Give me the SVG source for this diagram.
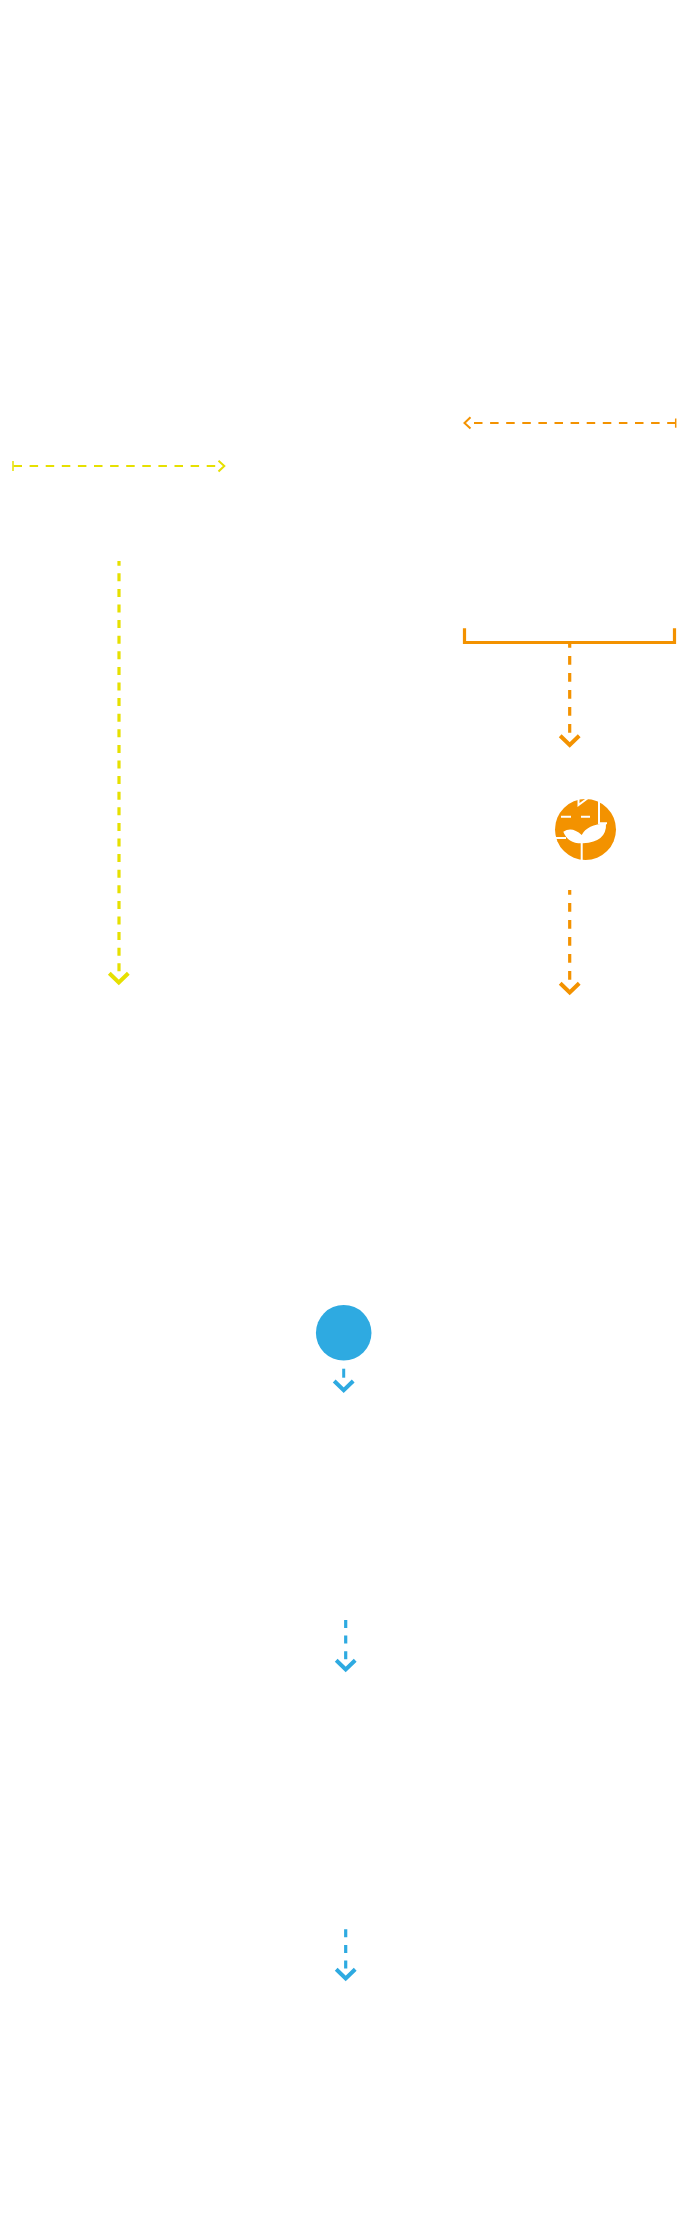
<svg xmlns="http://www.w3.org/2000/svg" width="696" height="2217" viewBox="0 0 696 2217">
<style>
.o{stroke:#f39200;fill:none}
.y{stroke:#e6e000;fill:none}
.b{stroke:#2eaae1;fill:none}
.thin{stroke-width:2;stroke-dasharray:8.500 7.600}
.thick{stroke-width:3.200;stroke-dasharray:8.700 8.300}
.thickb{stroke-width:3.200;stroke-dasharray:8 7.600}
.cap{stroke-width:1.500}
.wing{stroke-width:2}
.head{stroke-width:4}
.w{stroke:#fff;fill:none;stroke-width:2}
</style>
<rect width="696" height="2217" fill="#fff"/>
<g id="connectors">
<path class="o thin" d="M474 423H675"/>
<path class="o cap" d="M675.700 418.500V427.700"/>
<path class="o wing" d="M470.500 417.300L464.500 423L470.500 428.500"/>
<path class="o" stroke-width="3.200" d="M464.500 628.300V642.500H674.500V628.300"/>
<path class="o thick" stroke-dashoffset="5" d="M569.700 644V733"/>
<path class="o head" d="M560.200 735.800L569.700 745.000L579.200 735.800"/>
<path class="o thick" stroke-dashoffset="4" d="M569.700 890V981"/>
<path class="o head" d="M560.200 983.300L569.700 992.500L579.200 983.300"/>
<path class="y thin" d="M13.500 466H216"/>
<path class="y cap" d="M13 461V471"/>
<path class="y wing" d="M218.500 460.700L224.300 466L218.500 471.500"/>
<path class="y thickb" stroke-dashoffset="3.300" d="M119 561V972"/>
<path class="y head" d="M109.300 973.300L118.800 982.500L128.300 973.300"/>
<path class="b" stroke-width="3" d="M343.700 1368.700V1377.700"/>
<path class="b head" d="M334.200 1381L343.700 1390.200L353.200 1381"/>
<path class="b thickb" d="M345.700 1620V1659.500"/>
<path class="b head" d="M336.200 1660.300L345.700 1669.500L355.200 1660.300"/>
<path class="b thickb" d="M345.700 1929.300V1968.800"/>
<path class="b head" d="M336.200 1969.300L345.700 1978.500L355.200 1969.300"/>
</g>
<g id="icon">
<circle cx="585.500" cy="829.500" r="30.500" fill="#f39200"/>
<path class="w" d="M561 816.700H571M581 816.700H590M578.500 798V805L588 798M599 797V823.300H607M555 838H566M581.700 842V861"/>
<path fill="#fff" d="M563.300 831.700Q572 826 581.700 835Q587 824.500 606 823.300Q607 842 583 843.300Q568 844 563.300 831.700Z"/>
</g>
<g id="dot">
<circle cx="343.700" cy="1332.800" r="27.800" fill="#2eaae1"/>
</g>
</svg>
